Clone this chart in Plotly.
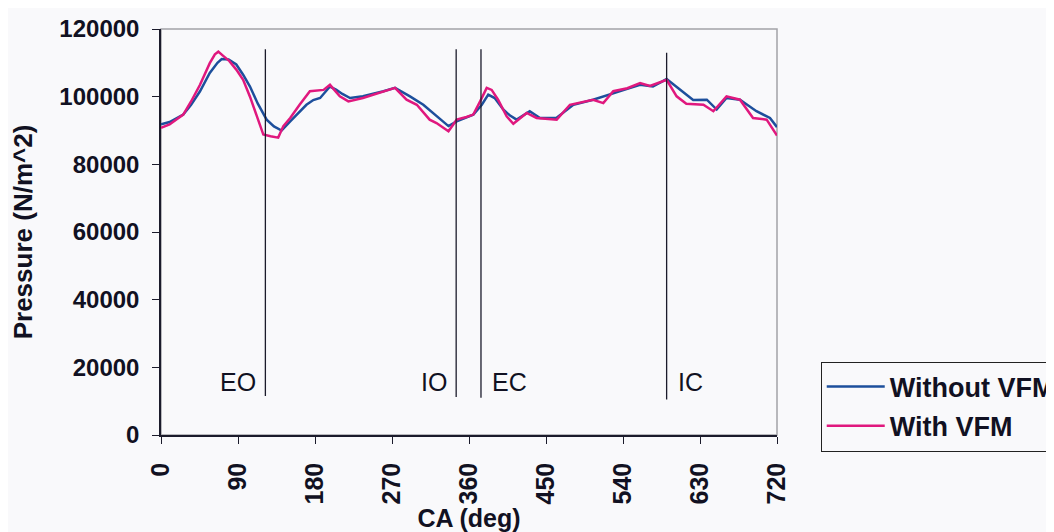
import plotly.graph_objects as go

# ---------------- data ----------------
ca_without = [0, 10, 26, 35, 45.6, 57, 66, 71, 79, 88, 96, 104, 113, 123.5, 132, 141, 151, 160, 170, 178,
              186, 197.5, 205, 212, 221, 236, 248, 260, 273.5, 282, 291, 306.6, 322, 336, 345.6, 355, 365,
              375, 382.5, 390, 400, 408, 415.7, 431, 443, 462, 482, 505, 528.6, 545, 560, 575, 591, 606.6,
              622, 638, 649.5, 661, 676.7, 696, 711.8, 720]
p_without = [91800, 92500, 94700, 97500, 101600, 107000, 110000, 111100, 111000, 109500, 106500, 103000,
             98000, 93200, 91200, 90000, 92700, 95000, 97600, 99000, 99600, 103000, 102000, 100800, 99600,
             100100, 100800, 101600, 102600, 101500, 100100, 97600, 94200, 91300, 92700, 93600, 94700, 97600,
             100600, 99600, 96200, 94400, 93200, 95700, 93700, 93700, 97600, 99100, 101100, 102300, 103500,
             103000, 105200, 102000, 99000, 99100, 96200, 99600, 99100, 95700, 93700, 91000]

ca_with = [0, 10, 26, 35, 45.6, 57, 63, 67, 72, 80, 88, 96, 104, 112, 119.6, 128, 137, 143, 151, 162, 174,
           190, 197.5, 209, 219, 236, 260, 273.5, 287, 299, 314, 322, 336, 345.6, 357, 365, 373, 380.7,
           386.5, 394, 404, 411.8, 427.4, 439, 462.5, 478, 505, 517, 528.6, 545, 560, 571.5, 591, 602.7,
           614, 634, 645.6, 661, 676.7, 692, 707.9, 720]
p_with = [90800, 91800, 94700, 98500, 103500, 109900, 112500, 113300, 112200, 110500, 108000, 105000,
          100000, 94200, 88800, 88300, 87900, 91300, 93700, 97600, 101600, 102000, 103500, 100100, 98600,
          99600, 101600, 102600, 99100, 97600, 93200, 92200, 89800, 93200, 94000, 94700, 98600, 102600,
          102000, 99100, 94200, 92000, 95200, 93700, 93200, 97600, 99100, 98100, 101600, 102500, 104000,
          103200, 105000, 100100, 97900, 97600, 95700, 100100, 99100, 93700, 93200, 88500]

x_ticks = [0, 90, 180, 270, 360, 450, 540, 630, 720]
y_ticks = [0, 20000, 40000, 60000, 80000, 100000, 120000]

events = ["EO", "IO", "EC", "IC"]
event_ca = [122, 345, 374, 591]
event_top = [114000, 114000, 114000, 113000]
event_bottom = [11500, 11200, 11000, 10500]
event_label_y = [15800, 15800, 15800, 15800]
event_label_side = ["left", "left", "right", "right"]

# ---------------- style ----------------
FONT = "Liberation Sans, Arial, sans-serif"
BG = "#f9f9fb"
AXIS = "#1b1b2b"
BLUE = "#1d4f9c"
MAGENTA = "#e0187e"

fig = go.Figure()
fig.add_trace(go.Scatter(x=ca_without, y=p_without, mode="lines", name="Without VFM",
                         line=dict(color=BLUE, width=2.5), legendgroup="a"))
fig.add_trace(go.Scatter(x=ca_with, y=p_with, mode="lines", name="With VFM",
                         line=dict(color=MAGENTA, width=2.5), legendgroup="b"))

shapes = [dict(type="rect", xref="paper", yref="paper", x0=0, x1=1, y0=0, y1=1,
               line=dict(color="#a3a3a8", width=1.5), layer="below")]
annotations = []
for name, ca, top, bot, ly, side in zip(events, event_ca, event_top, event_bottom,
                                        event_label_y, event_label_side):
    shapes.append(dict(type="line", xref="x", yref="y", x0=ca, x1=ca, y0=bot, y1=top,
                       line=dict(color=AXIS, width=1.3)))
    annotations.append(dict(x=ca, y=ly, xref="x", yref="y", text=name, showarrow=False,
                            xanchor="right" if side == "left" else "left",
                            xshift=-7 if side == "left" else 9,
                            font=dict(family=FONT, size=25, color="#111122")))

fig.update_layout(
    width=1046, height=524, autosize=False,
    margin=dict(l=153, r=277, t=21, b=97, autoexpand=False),
    paper_bgcolor=BG, plot_bgcolor=BG,
    font=dict(family=FONT, color="#111122"),
    shapes=shapes, annotations=annotations,
    legend=dict(x=1.071, y=0.181, xanchor="left", yanchor="top",
                bordercolor="#222", borderwidth=1, bgcolor=BG,
                font=dict(family=FONT, size=27, color="#111122", weight="bold"),
                tracegroupgap=1, itemwidth=58),
)
fig.update_xaxes(range=[0, 720], tickvals=x_ticks, ticktext=[str(v) for v in x_ticks],
                 tickangle=-90, tickfont=dict(family=FONT, size=25, weight="bold", color="#111122"),
                 showline=True, linecolor=AXIS, linewidth=1.5, ticks="outside", ticklen=7,
                 tickcolor=AXIS, tickwidth=1.3, showgrid=False, zeroline=False, automargin=False,
                 ticklabelstandoff=9,
                 title=dict(text="CA (deg)", font=dict(family=FONT, size=25, weight="bold"), standoff=4))
fig.update_yaxes(range=[0, 120000], tickvals=y_ticks, ticktext=[str(v) for v in y_ticks],
                 tickfont=dict(family=FONT, size=24, weight="bold", color="#111122"),
                 showline=True, linecolor=AXIS, linewidth=1.5, ticks="outside", ticklen=7,
                 tickcolor=AXIS, tickwidth=1.3, showgrid=False, zeroline=False, automargin=False,
                 ticklabelstandoff=8,
                 title=dict(text="Pressure (N/m^2)", font=dict(family=FONT, size=26, weight="bold"),
                            standoff=21))

fig.write_html("out.html")
